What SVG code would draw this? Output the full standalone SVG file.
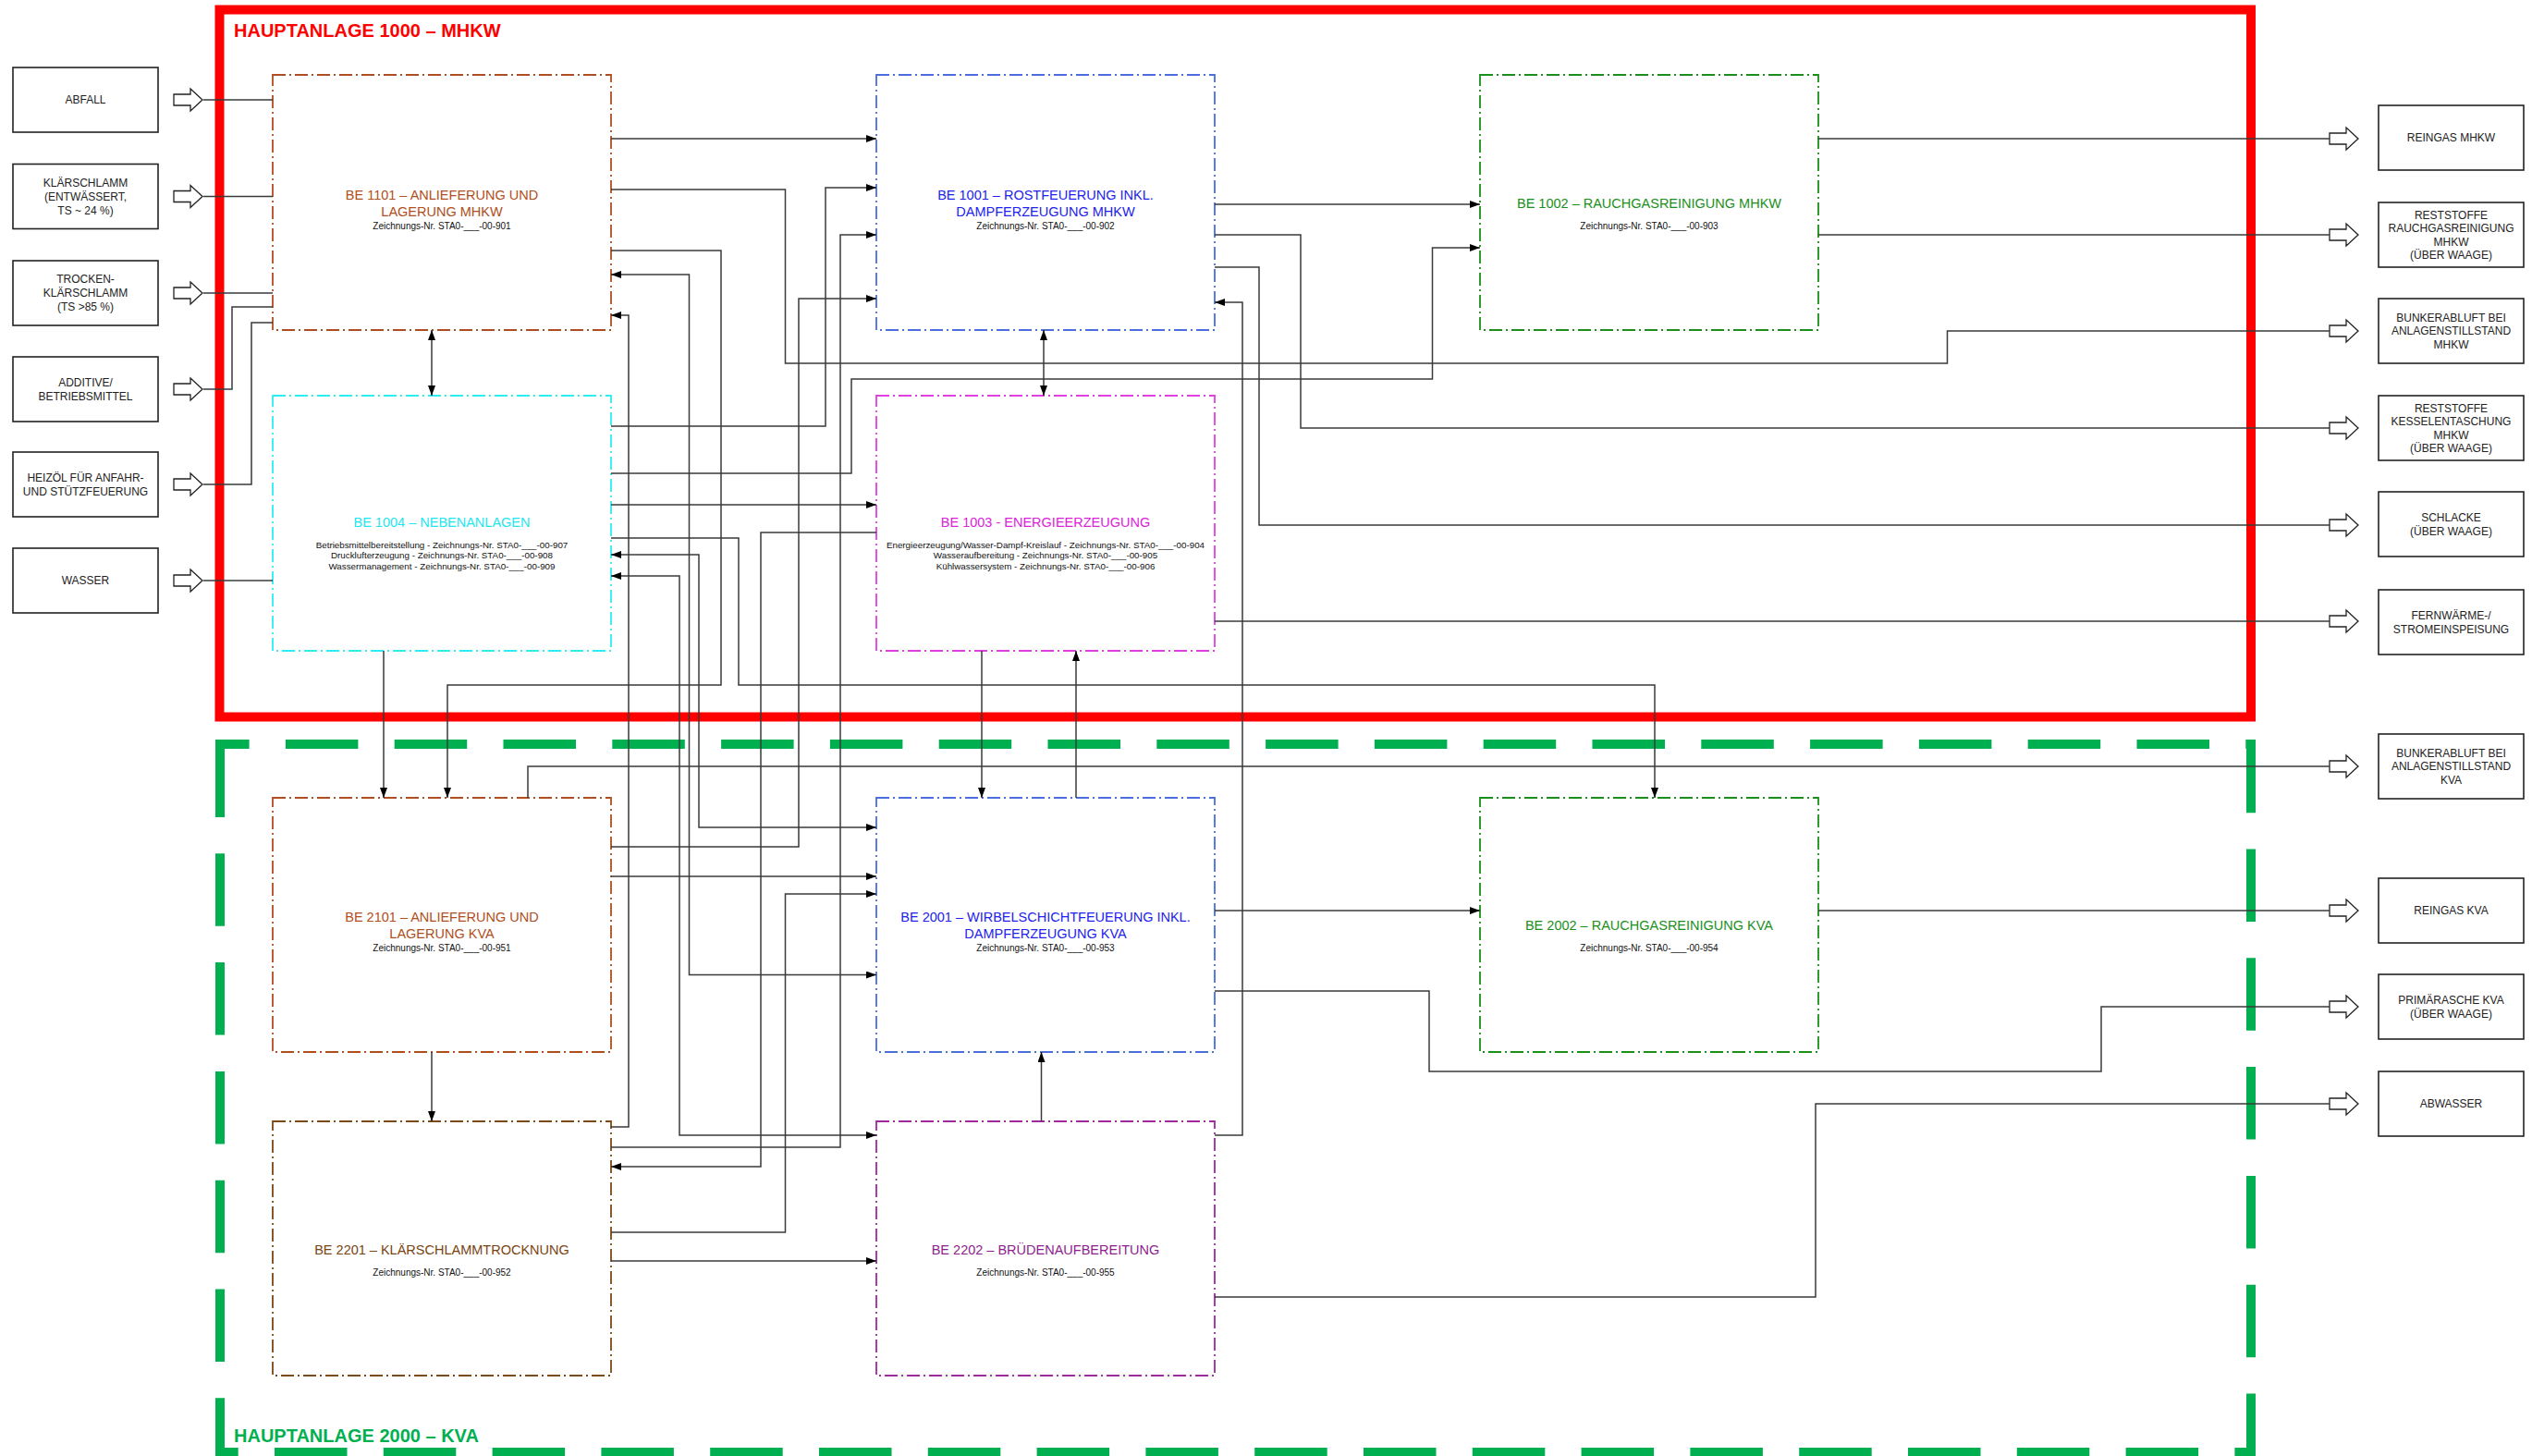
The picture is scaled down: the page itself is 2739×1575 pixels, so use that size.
<svg xmlns="http://www.w3.org/2000/svg" width="2739" height="1575" viewBox="0 0 2739 1575">
<style>
.t{font-family:"Liberation Sans",Arial,sans-serif;text-anchor:middle}
.io{fill:#fff;stroke:#222;stroke-width:1.6}
.iot{font-size:12px;fill:#222}
.box{fill:none;stroke-width:1.8;stroke-dasharray:14 4 2 4}
.ttl{font-size:14.5px}
.sub{font-size:10px;fill:#111}
.sub2{font-size:9.8px;fill:#111}
.grp{font-family:"Liberation Sans",Arial,sans-serif;font-size:20px;font-weight:bold}
#connectors path{fill:none;stroke:#3a3a3a;stroke-width:1.5}
.ar{marker-end:url(#ah)}
.ar2{marker-start:url(#ah);marker-end:url(#ah)}
.s-br{stroke:#B04E20}.f-br{fill:#B04E20}
.s-bl{stroke:#4A6FDC}.f-bl{fill:#2222EE}
.s-gr{stroke:#1A8F1A}.f-gr{fill:#1A8F1A}
.s-cy{stroke:#2CEEF2}.f-cy{fill:#1DE6EE}
.s-mg{stroke:#E040E0}.f-mg{fill:#DA22DA}
.s-dbr{stroke:#7C4A18}.f-dbr{fill:#7A4412}
.s-pu{stroke:#9E2A9E}.f-pu{fill:#8E1E8E}
</style>
<defs>
<marker id="ah" viewBox="0 0 11 8" refX="11" refY="4" markerWidth="11" markerHeight="8" markerUnits="userSpaceOnUse" orient="auto-start-reverse"><path d="M0,0 L11,4 L0,8 Z" fill="#000"/></marker>
<path id="ha" d="M0,-6 H18 V-12 L31,0 L18,12 V6 H0 Z" fill="#fff" stroke="#222" stroke-width="1.3"/>
</defs>
<rect width="2739" height="1575" fill="#fff"/>

<g id="hauptanlage-1000">
<rect x="237.5" y="10.5" width="2197.5" height="765" fill="none" stroke="#FF0000" stroke-width="10"/>
<text class="grp" x="253" y="40" fill="#FF0000">HAUPTANLAGE 1000 – MHKW</text>
</g>
<g id="hauptanlage-2000">
<g stroke="#00B050" stroke-width="10" fill="none">
<line x1="233" y1="805" x2="2440" y2="805" stroke-dasharray="78.5 39.3" stroke-dashoffset="41.9"/>
<line x1="238" y1="805.5" x2="238" y2="1571" stroke-dasharray="78.5 39.3"/>
<line x1="233" y1="1571" x2="2440" y2="1571" stroke-dasharray="78.5 39.3" stroke-dashoffset="53.8"/>
<line x1="2435" y1="800.7" x2="2435" y2="1576" stroke-dasharray="78.5 39.3"/>
</g>
<text class="grp" x="253" y="1560" fill="#00B050">HAUPTANLAGE 2000 – KVA</text>
</g>

<g id="inputs">
<g id="in-abfall"><rect class="io" x="14" y="73" width="157" height="70"/><text class="t iot" x="92.5" y="112.3">ABFALL</text><use href="#ha" x="188" y="108"/></g>
<g id="in-klaerschlamm"><rect class="io" x="14" y="177.5" width="157" height="70"/><text class="t iot"><tspan x="92.5" y="201.8">KLÄRSCHLAMM</tspan><tspan x="92.5" y="216.8">(ENTWÄSSERT,</tspan><tspan x="92.5" y="231.8">TS ~ 24 %)</tspan></text><use href="#ha" x="188" y="212.5"/></g>
<g id="in-trocken"><rect class="io" x="14" y="282" width="157" height="70"/><text class="t iot"><tspan x="92.5" y="306.3">TROCKEN-</tspan><tspan x="92.5" y="321.3">KLÄRSCHLAMM</tspan><tspan x="92.5" y="336.3">(TS &gt;85 %)</tspan></text><use href="#ha" x="188" y="317"/></g>
<g id="in-additive"><rect class="io" x="14" y="386" width="157" height="70"/><text class="t iot"><tspan x="92.5" y="417.8">ADDITIVE/</tspan><tspan x="92.5" y="432.8">BETRIEBSMITTEL</tspan></text><use href="#ha" x="188" y="421"/></g>
<g id="in-heizoel"><rect class="io" x="14" y="489" width="157" height="70"/><text class="t iot"><tspan x="92.5" y="520.8">HEIZÖL FÜR ANFAHR-</tspan><tspan x="92.5" y="535.8">UND STÜTZFEUERUNG</tspan></text><use href="#ha" x="188" y="524"/></g>
<g id="in-wasser"><rect class="io" x="14" y="593" width="157" height="70"/><text class="t iot" x="92.5" y="632.3">WASSER</text><use href="#ha" x="188" y="628"/></g>
</g>

<g id="outputs">
<g id="out-reingas-mhkw"><rect class="io" x="2573" y="114" width="157" height="70"/><text class="t iot" x="2651.5" y="153.3">REINGAS MHKW</text><use href="#ha" x="2520" y="150"/></g>
<g id="out-reststoffe-rgr"><rect class="io" x="2573" y="219" width="157" height="70"/><text class="t iot"><tspan x="2651.5" y="236.8">RESTSTOFFE</tspan><tspan x="2651.5" y="251.3">RAUCHGASREINIGUNG</tspan><tspan x="2651.5" y="265.8">MHKW</tspan><tspan x="2651.5" y="280.3">(ÜBER WAAGE)</tspan></text><use href="#ha" x="2520" y="254"/></g>
<g id="out-bunker-mhkw"><rect class="io" x="2573" y="323" width="157" height="70"/><text class="t iot"><tspan x="2651.5" y="347.8">BUNKERABLUFT BEI</tspan><tspan x="2651.5" y="362.3">ANLAGENSTILLSTAND</tspan><tspan x="2651.5" y="376.8">MHKW</tspan></text><use href="#ha" x="2520" y="358"/></g>
<g id="out-kessel"><rect class="io" x="2573" y="428" width="157" height="70"/><text class="t iot"><tspan x="2651.5" y="445.8">RESTSTOFFE</tspan><tspan x="2651.5" y="460.3">KESSELENTASCHUNG</tspan><tspan x="2651.5" y="474.8">MHKW</tspan><tspan x="2651.5" y="489.3">(ÜBER WAAGE)</tspan></text><use href="#ha" x="2520" y="463"/></g>
<g id="out-schlacke"><rect class="io" x="2573" y="532" width="157" height="70"/><text class="t iot"><tspan x="2651.5" y="564">SCHLACKE</tspan><tspan x="2651.5" y="579">(ÜBER WAAGE)</tspan></text><use href="#ha" x="2520" y="568"/></g>
<g id="out-fernwaerme"><rect class="io" x="2573" y="638" width="157" height="70"/><text class="t iot"><tspan x="2651.5" y="669.5">FERNWÄRME-/</tspan><tspan x="2651.5" y="684.5">STROMEINSPEISUNG</tspan></text><use href="#ha" x="2520" y="672"/></g>
<g id="out-bunker-kva"><rect class="io" x="2573" y="794" width="157" height="70"/><text class="t iot"><tspan x="2651.5" y="818.8">BUNKERABLUFT BEI</tspan><tspan x="2651.5" y="833.3">ANLAGENSTILLSTAND</tspan><tspan x="2651.5" y="847.8">KVA</tspan></text><use href="#ha" x="2520" y="829"/></g>
<g id="out-reingas-kva"><rect class="io" x="2573" y="950" width="157" height="70"/><text class="t iot" x="2651.5" y="989.3">REINGAS KVA</text><use href="#ha" x="2520" y="985"/></g>
<g id="out-primaerasche"><rect class="io" x="2573" y="1054" width="157" height="70"/><text class="t iot"><tspan x="2651.5" y="1086">PRIMÄRASCHE KVA</tspan><tspan x="2651.5" y="1101">(ÜBER WAAGE)</tspan></text><use href="#ha" x="2520" y="1089"/></g>
<g id="out-abwasser"><rect class="io" x="2573" y="1159" width="157" height="70"/><text class="t iot" x="2651.5" y="1198.3">ABWASSER</text><use href="#ha" x="2520" y="1194"/></g>
</g>

<g id="be1101"><rect class="box s-br" x="295" y="81" width="366" height="276"/><text class="t ttl f-br"><tspan x="478" y="215.5">BE 1101 – ANLIEFERUNG UND</tspan><tspan x="478" y="233.5">LAGERUNG MHKW</tspan></text><text class="t sub" x="478" y="247.5">Zeichnungs-Nr. STA0-___-00-901</text></g>
<g id="be1001"><rect class="box s-bl" x="948" y="81" width="366" height="276"/><text class="t ttl f-bl"><tspan x="1131" y="215.5">BE 1001 – ROSTFEUERUNG INKL.</tspan><tspan x="1131" y="233.5">DAMPFERZEUGUNG MHKW</tspan></text><text class="t sub" x="1131" y="247.5">Zeichnungs-Nr. STA0-___-00-902</text></g>
<g id="be1002"><rect class="box s-gr" x="1601" y="81" width="366" height="276"/><text class="t ttl f-gr" x="1784" y="224.5">BE 1002 – RAUCHGASREINIGUNG MHKW</text><text class="t sub" x="1784" y="247.5">Zeichnungs-Nr. STA0-___-00-903</text></g>
<g id="be1004"><rect class="box s-cy" x="295" y="428" width="366" height="276"/><text class="t ttl f-cy" x="478" y="570">BE 1004 – NEBENANLAGEN</text><text class="t sub2"><tspan x="478" y="592.5">Betriebsmittelbereitstellung - Zeichnungs-Nr. STA0-___-00-907</tspan><tspan x="478" y="604">Drucklufterzeugung - Zeichnungs-Nr. STA0-___-00-908</tspan><tspan x="478" y="615.5">Wassermanagement - Zeichnungs-Nr. STA0-___-00-909</tspan></text></g>
<g id="be1003"><rect class="box s-mg" x="948" y="428" width="366" height="276"/><text class="t ttl f-mg" x="1131" y="570">BE 1003 - ENERGIEERZEUGUNG</text><text class="t sub2"><tspan x="1131" y="592.5">Energieerzeugung/Wasser-Dampf-Kreislauf - Zeichnungs-Nr. STA0-___-00-904</tspan><tspan x="1131" y="604">Wasseraufbereitung - Zeichnungs-Nr. STA0-___-00-905</tspan><tspan x="1131" y="615.5">Kühlwassersystem - Zeichnungs-Nr. STA0-___-00-906</tspan></text></g>
<g id="be2101"><rect class="box s-br" x="295" y="863" width="366" height="275"/><text class="t ttl f-br"><tspan x="478" y="997">BE 2101 – ANLIEFERUNG UND</tspan><tspan x="478" y="1015">LAGERUNG KVA</tspan></text><text class="t sub" x="478" y="1028.5">Zeichnungs-Nr. STA0-___-00-951</text></g>
<g id="be2001"><rect class="box s-bl" x="948" y="863" width="366" height="275"/><text class="t ttl f-bl"><tspan x="1131" y="997">BE 2001 – WIRBELSCHICHTFEUERUNG INKL.</tspan><tspan x="1131" y="1015">DAMPFERZEUGUNG KVA</tspan></text><text class="t sub" x="1131" y="1028.5">Zeichnungs-Nr. STA0-___-00-953</text></g>
<g id="be2002"><rect class="box s-gr" x="1601" y="863" width="366" height="275"/><text class="t ttl f-gr" x="1784" y="1006">BE 2002 – RAUCHGASREINIGUNG KVA</text><text class="t sub" x="1784" y="1028.5">Zeichnungs-Nr. STA0-___-00-954</text></g>
<g id="be2201"><rect class="box s-dbr" x="295" y="1213" width="366" height="275"/><text class="t ttl f-dbr" x="478" y="1357">BE 2201 – KLÄRSCHLAMMTROCKNUNG</text><text class="t sub" x="478" y="1379.5">Zeichnungs-Nr. STA0-___-00-952</text></g>
<g id="be2202"><rect class="box s-pu" x="948" y="1213" width="366" height="275"/><text class="t ttl f-pu" x="1131" y="1357">BE 2202 – BRÜDENAUFBEREITUNG</text><text class="t sub" x="1131" y="1379.5">Zeichnungs-Nr. STA0-___-00-955</text></g>

<g id="connectors">
<path d="M220,108 H295"/>
<path d="M220,212.5 H295"/>
<path d="M220,317 H295"/>
<path d="M220,421 H251 V332 H295"/>
<path d="M220,524 H272 V349 H295"/>
<path d="M220,628 H295"/>
<path d="M1967,150 H2520"/>
<path d="M1967,254 H2520"/>
<path d="M661,205 H849.5 V393 H2106.5 V358 H2520"/>
<path d="M1314,254 H1407 V463 H2520"/>
<path d="M1314,289 H1362 V568 H2520"/>
<path d="M1314,672 H2520"/>
<path d="M571,863 V829 H2520"/>
<path d="M1967,985 H2520"/>
<path d="M1314,1072 H1546 V1159 H2273 V1089 H2520"/>
<path d="M1314,1403 H1964 V1194 H2520"/>
<path class="ar" d="M661,150 H948"/>
<path class="ar" d="M661,271 H780 V741 H484 V863"/>
<path class="ar2" d="M467,357 V428"/>
<path class="ar" d="M661,461 H893 V203 H948"/>
<path class="ar" d="M661,512 H921 V410 H1549.5 V268 H1601"/>
<path class="ar" d="M661,546 H948"/>
<path class="ar" d="M661,582 H799 V741 H1790 V863"/>
<path class="ar2" d="M661,600 H756 V895 H948"/>
<path class="ar2" d="M661,623 H735 V1228 H948"/>
<path class="ar2" d="M661,297 H745.5 V1054.5 H948"/>
<path class="ar" d="M661,1219 H680 V341 H661"/>
<path class="ar" d="M415,704 V863"/>
<path class="ar" d="M1314,221 H1601"/>
<path class="ar2" d="M1129,357 V428"/>
<path class="ar" d="M1062,704 V863"/>
<path class="ar" d="M1164,863 V704"/>
<path class="ar" d="M1126.5,1213 V1138"/>
<path class="ar" d="M1314,1228 H1344 V327 H1314"/>
<path class="ar" d="M661,916 H864 V323 H948"/>
<path class="ar" d="M661,948 H948"/>
<path class="ar" d="M661,1241 H909 V254 H948"/>
<path class="ar" d="M948,576 H823 V1262 H661"/>
<path class="ar" d="M661,1333 H849.5 V967 H948"/>
<path class="ar" d="M661,1364 H948"/>
<path class="ar" d="M467,1138 V1213"/>
<path class="ar" d="M1314,985 H1601"/>
</g>
</svg>
